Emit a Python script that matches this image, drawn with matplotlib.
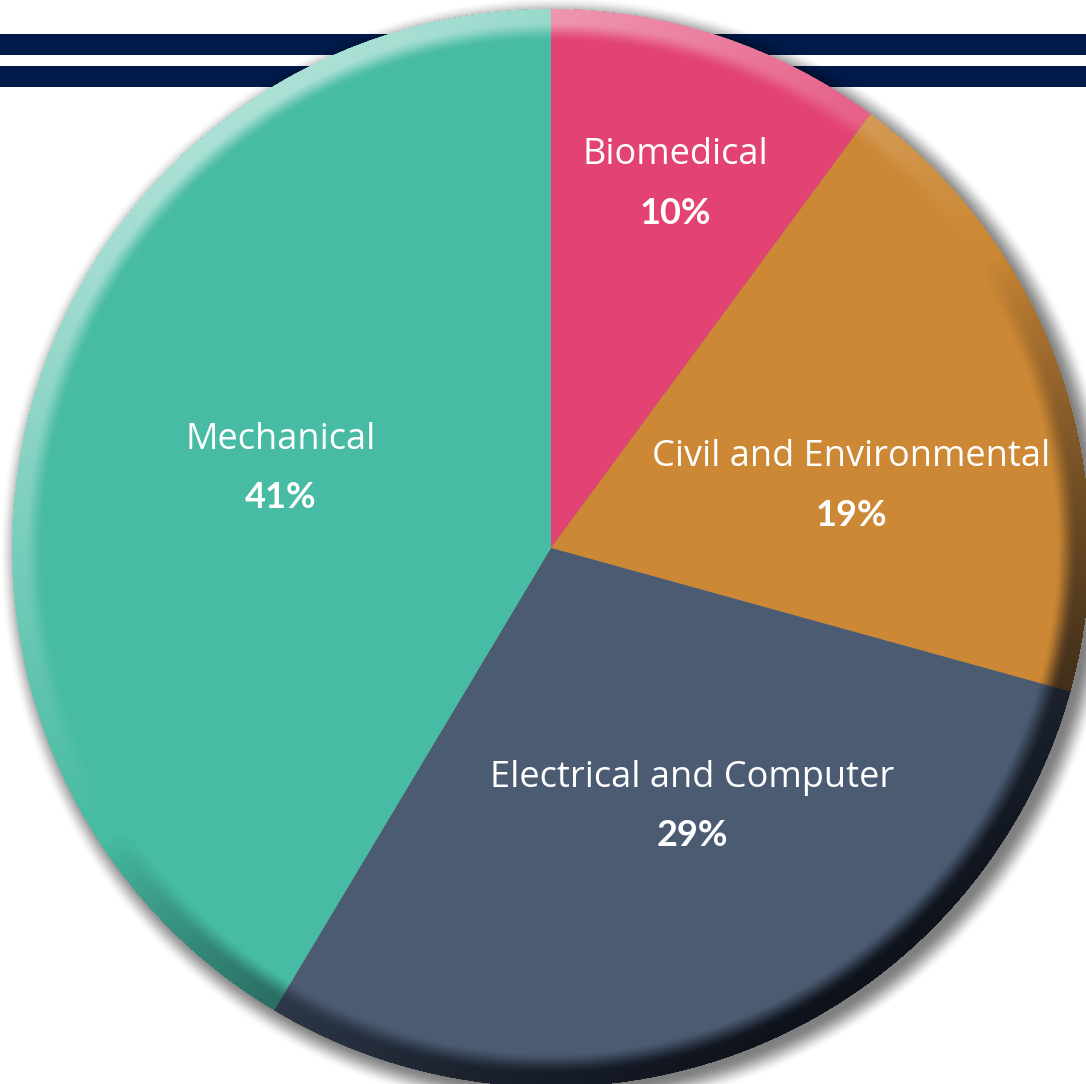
import numpy as np
import matplotlib
matplotlib.use("Agg")
import matplotlib.pyplot as plt

# ---- data ----
categories = ["Biomedical", "Civil and Environmental", "Electrical and Computer", "Mechanical"]
values = [10, 19, 29, 41]
pct_labels = ["10%", "19%", "29%", "41%"]
colors = ["#E24372", "#CC8835", "#4B5B72", "#47BBA3"]
# label anchor positions (pixel coords, from top-left)
label_pos = [(675, 155), (851, 457), (692, 778), (281, 440)]

W, H = 1086, 1084
fig = plt.figure(figsize=(W / 100, H / 100), dpi=100)
ax = fig.add_axes([0, 0, 1, 1])
ax.set_xlim(0, W)
ax.set_ylim(0, H)
ax.axis("off")

cx, cy, R = 551, H - 548, 539

# navy stripes
navy = "#001A4A"
for top, bot in [(34, 55), (66, 87)]:
    ax.axhspan(H - bot, H - top, color=navy, zorder=1, lw=0)

# drop shadow
xs = np.arange(W) + 0.5
ys = np.arange(H) + 0.5
X, Y = np.meshgrid(xs, ys[::-1])
rs = np.hypot(X - (cx + 7), Y - (cy - 7))
t = np.clip((rs - (R - 6)) / 26, 0, 1)
sh_alpha = 0.5 * (1 - (3 * t**2 - 2 * t**3))
shadow = np.zeros((H, W, 4))
shadow[..., 3] = sh_alpha
ax.imshow(shadow, extent=(0, W, 0, H), origin="upper", zorder=2, interpolation="bilinear")

# pie
wedges, _ = ax.pie(values, colors=colors, startangle=90, counterclock=False,
                   center=(cx, cy), radius=R, wedgeprops=dict(linewidth=0),
                   frame=True)
for w in wedges:
    w.set_zorder(3)
ax.set_xlim(0, W)
ax.set_ylim(0, H)
ax.set_aspect("auto")
ax.axis("off")

# bevel shading
r = np.hypot(X - cx, Y - cy)
nx = (X - cx) / np.maximum(r, 1e-6)
ny = (Y - cy) / np.maximum(r, 1e-6)
lx, ly = -0.55, 0.835
d = nx * lx + ny * ly
u = np.clip((r - (R - 34)) / 22, 0, 1)
edge = 3 * u**2 - 2 * u**3
inside = r <= R
ov = np.zeros((H, W, 4))
light = np.clip(d, 0, 1) * edge
dark = np.clip(-d, 0, 1) * edge
ov[..., 0] = np.where(d > 0, 1.0, 0.03)
ov[..., 1] = np.where(d > 0, 1.0, 0.04)
ov[..., 2] = np.where(d > 0, 1.0, 0.07)
alpha = np.where(d > 0, 0.55 * light**1.2, 0.9 * dark**0.85)
ov[..., 3] = np.where(inside, alpha, 0)
ax.imshow(ov, extent=(0, W, 0, H), origin="upper", zorder=4, interpolation="bilinear")

# labels
for name, pct, (px, py) in zip(categories, pct_labels, label_pos):
    ax.text(px, H - py, name, ha="center", va="center", color="white",
            fontsize=26, family="Open Sans", zorder=5)
    ax.text(px, H - py - 58, pct, ha="center", va="center", color="white",
            fontsize=26, family="Lato", fontweight="bold", zorder=5)

fig.savefig("out.png", dpi=100, facecolor="white")
